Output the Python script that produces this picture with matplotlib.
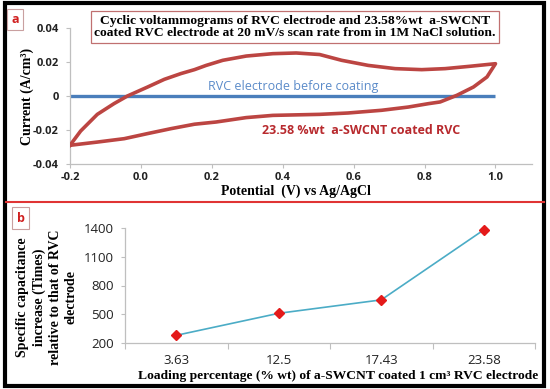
import matplotlib
matplotlib.use("Agg")
import matplotlib.pyplot as plt
from matplotlib.patches import Rectangle
from matplotlib.lines import Line2D
from matplotlib.ticker import FixedLocator

# ---------------- data ----------------
# panel a: cyclic voltammogram (forward branch then reverse branch)
cv_potential = [-0.2, -0.170, -0.123, -0.076, -0.038, 0.019, 0.066, 0.113, 0.151, 0.184,
                0.231, 0.297, 0.372, 0.438, 0.504, 0.566, 0.641, 0.717, 0.792, 0.858,
                0.929, 1.0,
                0.976, 0.938, 0.891, 0.844, 0.811, 0.754, 0.679, 0.584, 0.504, 0.372,
                0.297, 0.212, 0.151, 0.085, 0.019, -0.047, -0.123, -0.2]
cv_current = [-0.0290, -0.0206, -0.0108, -0.0045, 0.0, 0.0053, 0.0098, 0.0132, 0.0155, 0.0180,
              0.0210, 0.0235, 0.0249, 0.0253, 0.0244, 0.0210, 0.0180, 0.0161, 0.0155, 0.0161,
              0.0175, 0.0190,
              0.0112, 0.0053, 0.0004, -0.0035, -0.0045, -0.0065, -0.0084, -0.0100, -0.0108, -0.0114,
              -0.0127, -0.0153, -0.0166, -0.0192, -0.0221, -0.0251, -0.0271, -0.0290]
rvc_potential = [-0.2, 1.0]
rvc_current = [0.0, 0.0]
top_xticks = [-0.2, 0.0, 0.2, 0.4, 0.6, 0.8, 1.0]
top_xticklabels = ["-0.2", "0.0", "0.2", "0.4", "0.6", "0.8", "1.0"]
top_yticks = [-0.04, -0.02, 0.0, 0.02, 0.04]
top_yticklabels = ["-0.04", "-0.02", "0", "0.02", "0.04"]

# panel b: specific capacitance increase
loading = ["3.63", "12.5", "17.43", "23.58"]
cap_increase = [280, 510, 650, 1380]
bot_yticks = [200, 500, 800, 1100, 1400]

# ---------------- style ----------------
SERIF = "Liberation Serif"
SANS = "Open Sans"
SPINE = "#BFBFBF"

fig = plt.figure(figsize=(5.5, 3.89), dpi=100)
W, H = 550.0, 389.0

def fx(px):
    return px / W

def fy(py):
    return 1 - py / H

# ---------------- panel a ----------------
ax1 = fig.add_axes([fx(70), fy(164), fx(532) - fx(70), fy(28) - fy(164)])
ax1.plot(rvc_potential, rvc_current, color="#4A7EBB", lw=2.4, solid_capstyle="butt", zorder=2)
ax1.plot(cv_potential, cv_current, color="#BC4542", lw=2.6, zorder=3)
ax1.set_xlim(-0.2, 1.103)
ax1.set_ylim(-0.04, 0.04)
ax1.set_xticks(top_xticks)
ax1.set_xticklabels(top_xticklabels)
ax1.set_yticks(top_yticks)
ax1.set_yticklabels(top_yticklabels)
for lab in ax1.get_xticklabels() + ax1.get_yticklabels():
    lab.set_fontfamily(SANS)
    lab.set_fontweight("bold")
    lab.set_fontsize(8)
    lab.set_color("#222222")
ax1.tick_params(axis="both", direction="out", length=3, width=0.8, color=SPINE, pad=5)
ax1.tick_params(axis="x", pad=3)
for s in ["top", "right"]:
    ax1.spines[s].set_visible(False)
for s in ["left", "bottom"]:
    ax1.spines[s].set_color(SPINE)
    ax1.spines[s].set_linewidth(0.9)

ax1.text(0.43, 0.0055, "RVC electrode before coating", color="#5B8BC9",
         fontfamily=SANS, fontsize=9, ha="center", va="center")
ax1.text(0.62, -0.0205, "23.58 %wt  a-SWCNT coated RVC", color="#B82A2E",
         fontfamily=SANS, fontsize=9, fontweight="bold", ha="center", va="center")

fig.text(fx(295), fy(27), "Cyclic voltammograms of RVC electrode and 23.58%wt  a-SWCNT\n"
         "coated RVC electrode at 20 mV/s scan rate from in 1M NaCl solution.",
         fontfamily=SERIF, fontweight="bold", fontsize=9.7, ha="center", va="center",
         linespacing=1.05,
         bbox=dict(boxstyle="square,pad=0.25", facecolor="white", edgecolor="#C07070", lw=0.9))

fig.text(fx(27), fy(96), "Current (A/cm³)", rotation=90, fontfamily=SERIF,
         fontweight="bold", fontsize=10, ha="center", va="center")
fig.text(fx(296), fy(191), "Potential  (V) vs Ag/AgCl", fontfamily=SERIF,
         fontweight="bold", fontsize=10, ha="center", va="center")

# ---------------- panel b ----------------
ax2 = fig.add_axes([fx(125), fy(343), fx(535) - fx(125), fy(228) - fy(343)])
xpos = list(range(len(loading)))
ax2.plot(xpos, cap_increase, color="#4BACC6", lw=1.2, marker="D", markersize=5,
         markerfacecolor="#E41A1A", markeredgecolor="#E41A1A", zorder=3, clip_on=False)
ax2.set_xlim(-0.5, len(loading) - 0.5)
ax2.set_ylim(200, 1400)
ax2.set_yticks(bot_yticks)
ax2.set_xticks(xpos)
ax2.set_xticklabels(loading)
ax2.xaxis.set_minor_locator(FixedLocator([i - 0.5 for i in range(len(loading) + 1)]))
ax2.tick_params(axis="x", which="major", length=0, pad=8)
ax2.tick_params(axis="x", which="minor", direction="out", length=4, color=SPINE, width=0.8)
ax2.tick_params(axis="y", direction="out", length=3, color=SPINE, width=0.8, pad=5)
for lab in ax2.get_xticklabels() + ax2.get_yticklabels():
    lab.set_fontfamily(SANS)
    lab.set_fontsize(9.5)
    lab.set_color("#222222")
for s in ["top", "right"]:
    ax2.spines[s].set_visible(False)
for s in ["left", "bottom"]:
    ax2.spines[s].set_color(SPINE)
    ax2.spines[s].set_linewidth(0.9)

fig.text(fx(47), fy(297), "Specific capacitance\nincrease (Times)\nrelative to that of RVC\nelectrode",
         rotation=90, fontfamily=SERIF, fontweight="bold", fontsize=10, ha="center",
         va="center", linespacing=1.3, multialignment="center")
fig.text(fx(338), fy(376), "Loading percentage (% wt) of a-SWCNT coated 1 cm³ RVC electrode",
         fontfamily=SERIF, fontweight="bold", fontsize=9.7, ha="center", va="center")

# ---------------- decorations ----------------
fig.text(fx(15), fy(19.5), "a", color="#D02020", fontfamily=SANS, fontweight="bold",
         fontsize=9, ha="center", va="center",
         bbox=dict(boxstyle="square,pad=0.3", facecolor="white", edgecolor="#C9A0A0", lw=0.8))
fig.text(fx(20.5), fy(218), "b", color="#D02020", fontfamily=SANS, fontweight="bold",
         fontsize=9, ha="center", va="center",
         bbox=dict(boxstyle="square,pad=0.35", facecolor="white", edgecolor="#C9A0A0", lw=0.8))

fig.add_artist(Line2D([fx(6), fx(544)], [fy(202), fy(202)], color="#E03434", lw=1.5))
fig.add_artist(Rectangle((fx(5), fy(386)), fx(544) - fx(5), fy(3) - fy(386),
                         fill=False, edgecolor="black", lw=3))

fig.savefig("out.png", dpi=100)
